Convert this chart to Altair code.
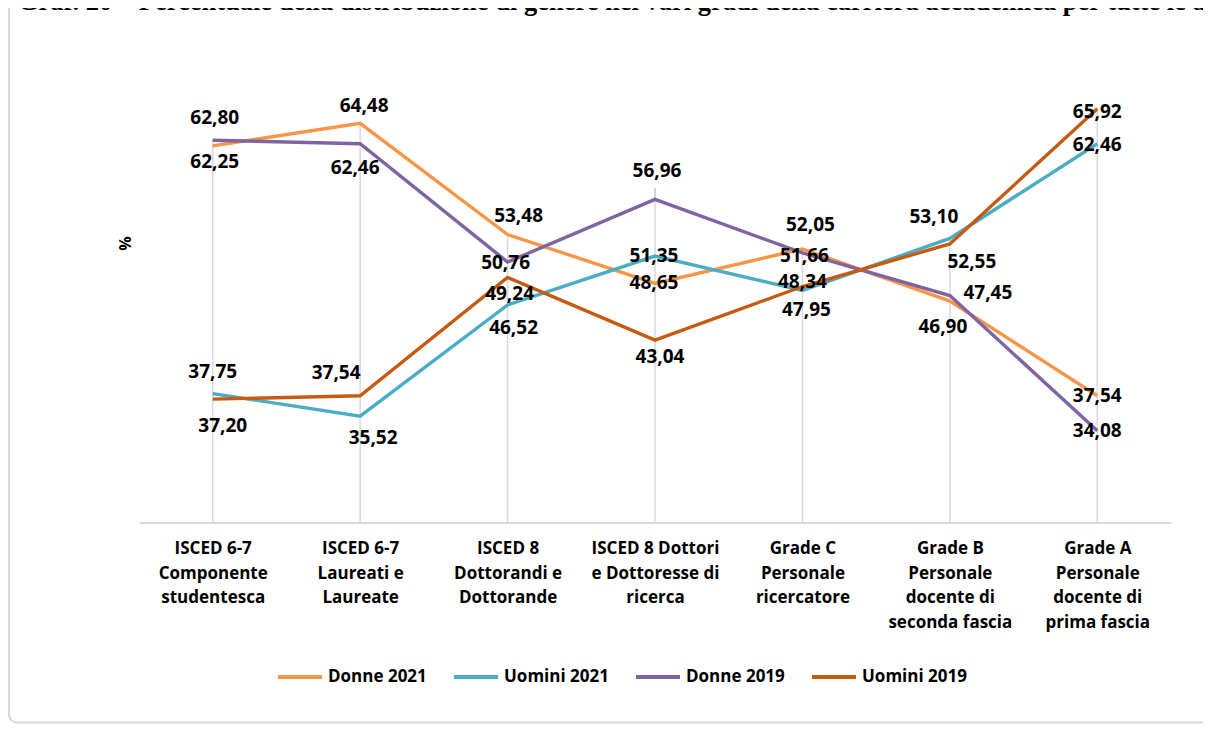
import altair as alt
import pandas as pd

title_text = ("Graf. 20 – Percentuale della distribuzione di genere nei vari gradi "
              "della carriera accademica per tutte le aree")

categories = [
    "ISCED 6-7\nComponente\nstudentesca",
    "ISCED 6-7\nLaureati e\nLaureate",
    "ISCED 8\nDottorandi e\nDottorande",
    "ISCED 8 Dottori\ne Dottoresse di\nricerca",
    "Grade C\nPersonale\nricercatore",
    "Grade B\nPersonale\ndocente di\nseconda fascia",
    "Grade A\nPersonale\ndocente di\nprima fascia",
]

series_names = ["Donne 2021", "Uomini 2021", "Donne 2019", "Uomini 2019"]
series_colors = ["#F79646", "#4BACC6", "#8064A2", "#C55A11"]

donne_2021 = [62.25, 64.48, 53.48, 48.65, 52.05, 46.90, 37.54]
uomini_2021 = [37.75, 35.52, 46.52, 51.35, 47.95, 53.10, 62.46]
donne_2019 = [62.80, 62.46, 50.76, 56.96, 51.66, 47.45, 34.08]
uomini_2019 = [37.20, 37.54, 49.24, 43.04, 48.34, 52.55, 65.92]

# label placement (pixel offsets from each point), style only
label_dx = {
    "Donne 2021": [2, 4, 11, -1, 8, -7, 0],
    "Uomini 2021": [0, 13, 6, -1, 4, -16, 0],
    "Donne 2019": [2, -5, -2, 2, 2, 38, 0],
    "Uomini 2019": [10, -24, 2, 5, 0, 22, 0],
}
label_dy = {
    "Donne 2021": [16, -17, -19, 0, -24, 26, 0],
    "Uomini 2021": [-22, 22, 23, 0, 20, -21, 1],
    "Donne 2019": [-22, 24, 1, -28, 3, -3, 0],
    "Uomini 2019": [27, -23, 17, 17, -5, 18, 3],
}

values = {
    "Donne 2021": donne_2021,
    "Uomini 2021": uomini_2021,
    "Donne 2019": donne_2019,
    "Uomini 2019": uomini_2019,
}

rows = []
for s in series_names:
    for i, c in enumerate(categories):
        rows.append({"series": s, "cat": c, "idx": i, "value": values[s][i]})
df = pd.DataFrame(rows)

FONT = "Open Sans"
Y_SCALE = alt.Scale(domain=[25, 70], nice=False, zero=False)

x_enc = alt.X(
    "cat:N",
    sort=categories,
    scale=alt.Scale(type="point", padding=0.5),
    axis=alt.Axis(
        title=None,
        labelAngle=0,
        labelExpr="split(datum.label, '\\n')",
        labelAlign="center",
        labelFont=FONT,
        labelFontWeight="bold",
        labelFontSize=17,
        labelColor="#000000",
        labelLineHeight=24.5,
        labelPadding=18,
        labelBaseline="top",
        labelLimit=0,
        ticks=False,
        tickSize=0,
        grid=False,
        domainColor="#d9d9d9",
        domainWidth=2,
    ),
)

y_enc = alt.Y(
    "value:Q",
    scale=Y_SCALE,
    axis=alt.Axis(
        title="%",
        labels=False,
        ticks=False,
        domain=False,
        grid=False,
        titleFont=FONT,
        titleFontWeight="bold",
        titleFontSize=16,
        titleColor="#000000",
        titleX=-14,
        titleY=175.5,
        titleAlign="center",
        titleBaseline="middle",
    ),
)

box = alt.Chart(pd.DataFrame({"a": [0]})).mark_rect(
    fillOpacity=0, stroke="#d9d9d9", strokeWidth=2, cornerRadius=8
).encode(
    x=alt.value(-130), x2=alt.value(1400), y=alt.value(-200), y2=alt.value(655)
)

drop = alt.Chart(df).transform_aggregate(
    vmax="max(value)", groupby=["cat"]
).mark_rule(color="#d9d9d9", strokeWidth=1.5).encode(
    x=alt.X("cat:N", sort=categories),
    y=alt.Y("vmax:Q"),
    y2=alt.datum(25),
)

lines = alt.Chart(df).mark_line(strokeWidth=3.4).encode(
    x=x_enc,
    y=y_enc,
    color=alt.Color(
        "series:N",
        scale=alt.Scale(domain=series_names, range=series_colors),
        legend=alt.Legend(
            title=None,
            orient="none",
            legendX=137,
            legendY=585.5,
            direction="horizontal",
            symbolType="stroke",
            symbolSize=1936,
            symbolStrokeWidth=4,
            labelFont=FONT,
            labelFontWeight="bold",
            labelFontSize=17,
            labelColor="#000000",
            labelOffset=4,
            columnPadding=19,
            padding=0,
        ),
    ),
    order=alt.Order("idx:Q"),
)

# leader line for the displaced label of Donne 2019 / ISCED 8 Dottori
leader = alt.Chart(df).transform_filter(
    "datum.series == 'Donne 2019' && datum.idx == 3"
).transform_calculate(
    v2="datum.value + 1.1"
).mark_rule(color="#a6a6a6", strokeWidth=1).encode(
    x=alt.X("cat:N", sort=categories),
    y=alt.Y("value:Q"),
    y2="v2:Q",
)

label_layers = []
for s in series_names:
    for i in range(len(categories)):
        lyr = alt.Chart(df).transform_filter(
            f"datum.series == '{s}' && datum.idx == {i}"
        ).transform_calculate(
            label="replace(format(datum.value, '.2f'), '.', ',')"
        ).mark_text(
            font=FONT, fontWeight="bold", fontSize=19, color="#000000",
            dx=label_dx[s][i], dy=label_dy[s][i],
        ).encode(
            x=alt.X("cat:N", sort=categories),
            y=alt.Y("value:Q"),
            text="label:N",
        )
        label_layers.append(lyr)

title = alt.Chart(pd.DataFrame({"t": [title_text]})).mark_text(
    align="left", baseline="alphabetic", font="Liberation Serif",
    fontWeight="bold", fontSize=26.5, color="#000000"
).encode(x=alt.value(-121), y=alt.value(-57.5), text="t:N")

chart = alt.layer(box, drop, leader, lines, *label_layers, title).properties(
    width=1032,
    height=455,
    autosize=alt.AutoSizeParams(type="none"),
    padding={"left": 131, "top": 59.5, "right": 32, "bottom": 202.5},
).configure_view(stroke=None)

chart.save("out.html", embed_options={"renderer": "svg", "actions": False})
